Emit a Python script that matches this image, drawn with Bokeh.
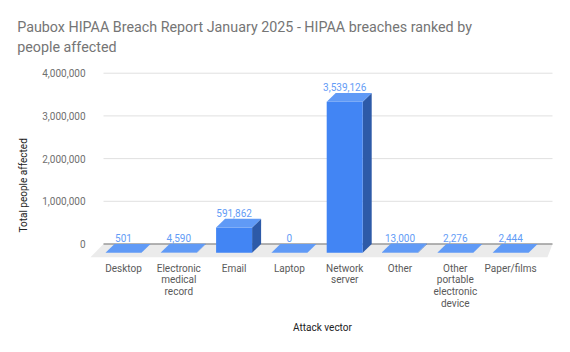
from bokeh.plotting import figure
from bokeh.models import Range1d, FixedTicker, NumeralTickFormatter, Title
from bokeh.core.properties import value
from bokeh.embed import file_html
from bokeh.resources import INLINE

# ---- data ----
categories = ["Desktop", "Electronic\nmedical\nrecord", "Email", "Laptop",
              "Network\nserver", "Other", "Other\nportable\nelectronic\ndevice", "Paper/films"]
people = [501, 4590, 591862, 0, 3539126, 13000, 2276, 2444]
value_labels = ["501", "4,590", "591,862", "0", "3,539,126", "13,000", "2,276", "2,444"]
y_ticks = [0, 1000000, 2000000, 3000000, 4000000]
title_lines = ["Paubox HIPAA Breach Report January 2025 - HIPAA breaches ranked by",
               "people affected"]
x_title = "Attack vector"
y_title = "Total people affected"

# ---- geometry (pixel layout -> data units) ----
W, H = 570, 352
fl, fr, ft, fb = 88, 556, 65, 258          # frame edges in px
px_slot = 55.3                              # px per category
x0_px = 123.0                               # px of category 0 centre
px_m = 42.7                                 # px per million
y0_px = 243.5                               # px of value 0

def xd(px):
    return (px - x0_px) / px_slot

def yd(py):
    return (y0_px - py) / px_m * 1e6

p = figure(width=W, height=H, output_backend="svg", toolbar_location=None,
           x_range=Range1d(xd(fl), xd(fr)), y_range=Range1d(yd(fb), yd(ft)),
           min_border_left=fl, min_border_right=W - fr,
           min_border_top=ft, min_border_bottom=H - fb)
p.outline_line_color = None
p.grid.visible = False
p.background_fill_color = "white"
p.border_fill_color = "white"
p.title = None

font = "Roboto"
bw = 36 / px_slot          # bar width
dx = 9 / px_slot           # depth x
dy = 8.8 / px_m * 1e6      # depth y

# floor
gx0, gx1 = xd(103), xd(552)
p.patch([gx0, gx1, xd(547), xd(90)], [0, 0, yd(256.7), yd(256.7)],
        fill_color="#ebebeb", line_color=None)
# gridlines
grid_vals = [t for t in y_ticks if t > 0]
p.segment(x0=[gx0] * len(grid_vals), x1=[gx1] * len(grid_vals), y0=grid_vals, y1=grid_vals,
          line_color="#e0e0e0", line_width=1)
# baseline
p.segment(x0=[gx0], x1=[gx1], y0=[0], y1=[0], line_color="#9a9a9a", line_width=1.5)

xs = list(range(len(people)))
front_l = [x - bw / 2 for x in xs]
front_r = [x + bw / 2 for x in xs]

# side faces
side_xs = [[r, r + dx, r + dx, r] for r in front_r]
side_ys = [[-dy, 0, v, v - dy] for v in people]
p.patches(side_xs, side_ys, fill_color="#2d5aa8", line_color=None)
# front faces
p.quad(left=front_l, right=front_r, bottom=[-dy] * len(people), top=[v - dy for v in people],
       fill_color="#4285f4", line_color=None)
# top faces
top_xs = [[l, r, r + dx, l + dx] for l, r in zip(front_l, front_r)]
top_ys = [[v - dy, v - dy, v, v] for v in people]
p.patches(top_xs, top_ys, fill_color="#609af6", line_color=None)

# value labels
p.text(x=xs, y=[v + 5.7 / px_m * 1e6 for v in people], text=value_labels,
       text_font=value(font), text_font_size="10px", text_color="#639cf6",
       text_align="center", text_baseline="middle")

# axes
p.yaxis.ticker = FixedTicker(ticks=y_ticks)
p.yaxis.formatter = NumeralTickFormatter(format="0,0")
p.yaxis.axis_line_color = None
p.yaxis.major_tick_line_color = None
p.yaxis.minor_tick_line_color = None
p.yaxis.major_tick_out = 0
p.yaxis.major_label_standoff = 3
p.yaxis.major_label_text_font = font
p.yaxis.major_label_text_font_size = "10px"
p.yaxis.major_label_text_color = "#707070"

p.xaxis.ticker = FixedTicker(ticks=xs)
p.xaxis.major_label_overrides = {i: c for i, c in zip(xs, categories)}
p.xaxis.axis_line_color = None
p.xaxis.major_tick_line_color = None
p.xaxis.minor_tick_line_color = None
p.xaxis.major_tick_out = 0
p.xaxis.major_label_standoff = 4
p.xaxis.major_label_text_font = font
p.xaxis.major_label_text_font_size = "10px"
p.xaxis.major_label_text_line_height = 1.08
p.xaxis.major_label_text_color = "#5a5a5a"
p.xaxis.axis_label = x_title
p.xaxis.axis_label_standoff = 10
p.xaxis.axis_label_text_font = font
p.xaxis.axis_label_text_font_size = "10px"
p.xaxis.axis_label_text_font_style = "normal"
p.xaxis.axis_label_text_color = "#222222"

# y-axis title as a left-side title (start anchored near the bottom)
p.add_layout(Title(text=y_title, text_font=font, text_font_size="10px",
                   text_font_style="normal", text_color="#222222",
                   align="left", offset=fb - 232, standoff=22), "left")

# chart title (two lines)
p.add_layout(Title(text="\n".join(title_lines), text_font=font, text_font_size="14.3px",
                   text_font_style="normal", text_color="#757575",
                   text_line_height=1.27,
                   align="left", offset=16.7 - fl, standoff=20), "above")

open("out.html", "w").write(file_html(p, INLINE))
